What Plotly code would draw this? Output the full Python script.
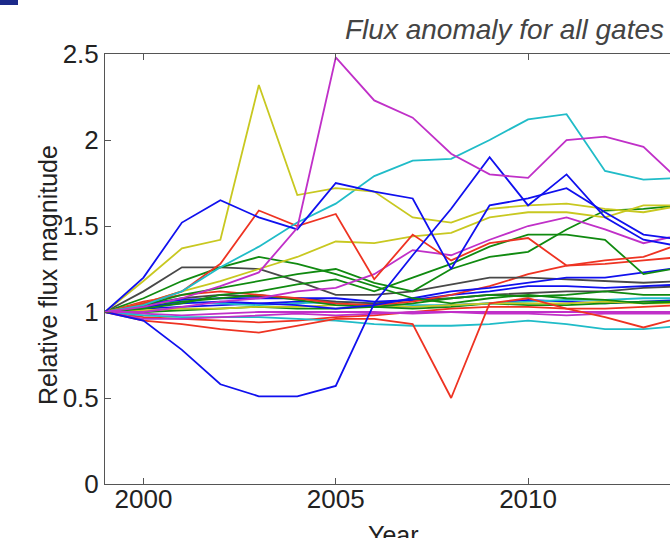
import plotly.graph_objects as go

years = list(range(1999, 2015))

# Relative flux per gate
blue_dip   = [1, 0.95, 0.78, 0.58, 0.51, 0.51, 0.57, 1.05, 1.33, 1.60, 1.90, 1.62, 1.80, 1.55, 1.42, 1.38]
blue_high  = [1, 1.20, 1.52, 1.65, 1.55, 1.48, 1.75, 1.70, 1.66, 1.25, 1.62, 1.66, 1.72, 1.58, 1.45, 1.42]
blue_mid   = [1, 1.05, 1.07, 1.08, 1.08, 1.08, 1.08, 1.06, 1.07, 1.10, 1.12, 1.15, 1.15, 1.14, 1.15, 1.16]
blue_low   = [1, 1.02, 1.03, 1.04, 1.05, 1.06, 1.05, 1.03, 1.03, 1.04, 1.05, 1.07, 1.06, 1.05, 1.06, 1.07]
blue_rise  = [1, 1.03, 1.05, 1.06, 1.05, 1.04, 1.02, 1.04, 1.08, 1.12, 1.14, 1.17, 1.20, 1.20, 1.23, 1.26]
green_peak = [1, 1.08, 1.18, 1.26, 1.32, 1.28, 1.22, 1.15, 1.08, 1.05, 1.08, 1.10, 1.08, 1.07, 1.05, 1.06]
green_rise = [1, 1.04, 1.10, 1.14, 1.18, 1.22, 1.25, 1.17, 1.12, 1.25, 1.32, 1.35, 1.48, 1.59, 1.60, 1.62]
green_mid  = [1, 1.02, 1.05, 1.10, 1.12, 1.16, 1.19, 1.12, 1.20, 1.28, 1.38, 1.45, 1.45, 1.42, 1.22, 1.26]
green_flat = [1, 1.00, 1.01, 1.02, 1.03, 1.02, 1.02, 1.03, 1.02, 1.03, 1.05, 1.04, 1.04, 1.05, 1.06, 1.06]
green_low  = [1, 1.03, 1.06, 1.08, 1.10, 1.07, 1.04, 1.03, 1.05, 1.08, 1.10, 1.09, 1.10, 1.12, 1.10, 1.10]
red_spike  = [1, 1.05, 1.12, 1.28, 1.59, 1.50, 1.57, 1.19, 1.45, 1.30, 1.40, 1.43, 1.27, 1.30, 1.32, 1.40]
red_vdip   = [1, 0.95, 0.93, 0.90, 0.88, 0.92, 0.96, 0.96, 0.93, 0.50, 1.05, 1.08, 1.02, 0.97, 0.91, 0.97]
red_rise   = [1, 1.06, 1.10, 1.12, 1.10, 1.08, 1.05, 1.04, 1.06, 1.10, 1.15, 1.22, 1.27, 1.28, 1.30, 1.32]
red_flat   = [1, 0.97, 0.96, 0.95, 0.94, 0.95, 0.97, 0.98, 1.00, 1.02, 1.03, 1.03, 1.02, 1.02, 1.03, 1.04]
cyan_high  = [1, 1.04, 1.12, 1.26, 1.38, 1.52, 1.63, 1.79, 1.88, 1.89, 2.00, 2.12, 2.15, 1.82, 1.77, 1.78]
cyan_low   = [1, 0.98, 0.97, 0.97, 0.97, 0.96, 0.95, 0.93, 0.92, 0.92, 0.93, 0.95, 0.93, 0.90, 0.90, 0.92]
cyan_flat  = [1, 1.05, 1.06, 1.05, 1.04, 1.05, 1.06, 1.05, 1.04, 1.04, 1.05, 1.06, 1.07, 1.07, 1.08, 1.08]
mag_big    = [1, 1.03, 1.08, 1.15, 1.23, 1.49, 2.48, 2.23, 2.13, 1.92, 1.80, 1.78, 2.00, 2.02, 1.96, 1.75]
mag_mid    = [1, 1.00, 1.03, 1.06, 1.08, 1.12, 1.14, 1.22, 1.36, 1.33, 1.42, 1.50, 1.55, 1.48, 1.40, 1.45]
mag_flat   = [1, 0.99, 0.98, 0.99, 1.00, 1.00, 1.00, 1.00, 0.99, 1.00, 1.00, 1.00, 1.00, 1.00, 1.00, 1.00]
mag_low    = [1, 0.96, 0.96, 0.97, 0.98, 0.99, 0.98, 0.99, 1.00, 1.00, 0.99, 0.99, 0.98, 0.99, 0.99, 0.99]
yel_spike  = [1, 1.18, 1.37, 1.42, 2.32, 1.68, 1.72, 1.70, 1.55, 1.52, 1.60, 1.62, 1.63, 1.60, 1.58, 1.62]
yel_grad   = [1, 1.05, 1.12, 1.18, 1.25, 1.32, 1.41, 1.40, 1.44, 1.46, 1.55, 1.58, 1.58, 1.55, 1.62, 1.62]
yel_flat   = [1, 1.01, 1.02, 1.02, 1.03, 1.03, 1.04, 1.04, 1.03, 1.04, 1.05, 1.05, 1.05, 1.06, 1.05, 1.05]
gray_high  = [1, 1.12, 1.26, 1.26, 1.25, 1.18, 1.10, 1.10, 1.12, 1.16, 1.20, 1.20, 1.19, 1.18, 1.17, 1.18]
gray_low   = [1, 1.04, 1.08, 1.10, 1.09, 1.08, 1.06, 1.05, 1.07, 1.08, 1.10, 1.11, 1.12, 1.12, 1.14, 1.15]

BLUE, GREEN, RED, CYAN, MAG, YEL, GRAY = "#1010ee", "#108a10", "#ee3322", "#20bcc8", "#c030c8", "#c8c820", "#484848"

series = [
    (blue_low, BLUE), (green_flat, GREEN), (red_flat, RED), (cyan_flat, CYAN), (mag_flat, MAG),
    (yel_flat, YEL), (gray_low, GRAY), (blue_mid, BLUE), (green_low, GREEN), (red_rise, RED),
    (cyan_low, CYAN), (mag_low, MAG), (gray_high, GRAY), (blue_rise, BLUE), (green_peak, GREEN),
    (green_mid, GREEN), (green_rise, GREEN), (yel_grad, YEL), (mag_mid, MAG), (red_vdip, RED),
    (red_spike, RED), (cyan_high, CYAN), (yel_spike, YEL), (blue_high, BLUE), (blue_dip, BLUE),
    (mag_big, MAG),
]

fig = go.Figure()
for vals, col in series:
    fig.add_trace(go.Scatter(x=years, y=vals, mode="lines",
                             line=dict(color=col, width=1.8), showlegend=False,
                             hoverinfo="skip"))

FONT = "Liberation Sans, Arial, sans-serif"
W, H = 670, 538
L, R, T, B = 105, 0, 54, 54
pw, ph = W - L - R, H - T - B

def px(xp):
    return (xp - L) / pw

def py(yp):
    return (H - B - yp) / ph

fig.update_layout(
    width=W, height=H,
    margin=dict(l=L, r=R, t=T, b=B, pad=0),
    paper_bgcolor="white", plot_bgcolor="white",
    font=dict(family=FONT, size=26, color="#222222"),
    xaxis=dict(range=[1999, 2013.69], tickvals=[2000, 2005, 2010],
               ticktext=["2000", "2005", "2010"],
               showgrid=False, zeroline=False, showline=True, linecolor="#555555",
               linewidth=1, ticks="inside", ticklen=6, tickcolor="#555555",
               ticklabelstandoff=-8,
               mirror="ticks", tickfont=dict(size=26, color="#222222", family=FONT)),
    yaxis=dict(range=[0, 2.5], tickvals=[0, 0.5, 1, 1.5, 2, 2.5],
               ticktext=["0", "0.5", "1", "1.5", "2", "2.5"],
               showgrid=False, zeroline=False, showline=True, linecolor="#555555",
               linewidth=1, ticks="inside", ticklen=6, tickcolor="#555555",
               mirror=False, tickfont=dict(size=26, color="#222222", family=FONT)),
    annotations=[
        dict(text="<i>Flux anomaly for all gates</i>", xref="paper", yref="paper",
             x=px(666), y=py(30), xanchor="right", yanchor="middle", showarrow=False,
             font=dict(size=28, color="#444444", family=FONT)),
        dict(text="Relative flux magnitude", xref="paper", yref="paper",
             x=px(48), y=py(275), xanchor="center", yanchor="middle", showarrow=False,
             textangle=-90, font=dict(size=25, color="#222222", family=FONT)),
        dict(text="Year", xref="x", yref="paper",
             x=2006.5, y=py(535), xanchor="center", yanchor="middle", showarrow=False,
             font=dict(size=25, color="#222222", family=FONT)),
    ],
    shapes=[
        dict(type="rect", xref="paper", yref="paper",
             x0=px(0), x1=px(18), y0=py(5), y1=py(0),
             fillcolor="#1c2a8a", line=dict(width=0)),
    ],
)

fig.write_html("out.html", config={"displayModeBar": False},
               post_script="document.body.style.margin='0';document.body.style.overflow='hidden';")
